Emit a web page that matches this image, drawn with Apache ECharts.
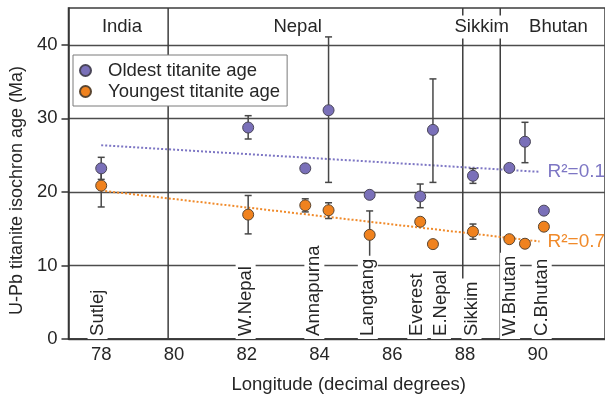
<!DOCTYPE html>
<html>
<head>
<meta charset="utf-8">
<script src="https://cdn.jsdelivr.net/npm/echarts@6/dist/echarts.min.js"></script>
<style>
  html, body { margin: 0; padding: 0; background: #fff; }
  #chart { width: 605px; height: 399px; }
</style>
</head>
<body>
<div id="chart"></div>
<script>
// Sample longitudes (decimal degrees E) and U-Pb titanite isochron ages (Ma)
const longitude    = [78.0, 82.04, 83.61, 84.25, 85.38, 86.77, 87.12, 88.22, 89.22, 89.65, 90.17];
const oldestAge    = [23.2, 28.75, 23.2, 31.1, 19.6, 19.38, 28.43, 22.19, 23.26, 26.82, 17.45];
const oldestLow    = [21.7, 27.19, null, 21.29, null, 17.85, 21.29, 21.16, null, 23.97, null];
const oldestHigh   = [24.7, 30.36, null, 41.07, null, 21.07, 35.36, 23.17, null, 29.46, null];
const youngestAge  = [20.85, 16.91, 18.17, 17.5, 14.16, 15.94, 12.9, 14.6, 13.57, 12.95, 15.27];
const youngestLow  = [17.95, 14.29, 17.28, 16.38, 11.02, null, null, 13.57, null, null, null];
const youngestHigh = [23.7, 19.51, 19.06, 18.52, 17.41, null, null, 15.63, null, null, null];

// Linear regression lines (end points) and their fit
const trendLon      = [78.0, 90.05];
const oldestTrend   = [26.34, 22.73];
const youngestTrend = [20.18, 13.26];
const oldestR2 = '0.1';
const youngestR2 = '0.7';

// Countries along the orogen and their boundaries
const regionNames  = ['India', 'Nepal', 'Sikkim', 'Bhutan'];
const regionLon    = [78.57, 83.4, 88.46, 90.57];
const regionBounds = [79.84, 87.94, 88.97];

// Sampling localities
const siteNames = ['Sutlej', 'W.Nepal', 'Annapurna', 'Langtang', 'Everest', 'E.Nepal', 'Sikkim', 'W.Bhutan', 'C.Bhutan'];
const siteLon   = [78.01, 82.08, 83.97, 85.44, 86.80, 87.45, 88.29, 89.35, 90.22];

// Axis ticks
const xTicks = [78, 80, 82, 84, 86, 88, 90];
const yTicks = [0, 10, 20, 30, 40];

const FONT = '"Liberation Sans", Arial, sans-serif';
const INK = '#262626';
const GRID = '#4d4d4d';
const PURPLE = '#7a70b9';
const ORANGE = '#f0821e';

function errorBars(low, high) {
  const data = [];
  longitude.forEach((x, i) => { if (low[i] != null) data.push([x, low[i], high[i]]); });
  return {
    type: 'custom',
    silent: true,
    z: 3,
    encode: { x: 0, y: [1, 2] },
    data,
    renderItem(params, api) {
      const x = api.value(0);
      const lo = api.coord([x, api.value(1)]);
      const hi = api.coord([x, api.value(2)]);
      const hw = 3.5;
      const style = { stroke: '#474747', lineWidth: 1.5 };
      return {
        type: 'group',
        children: [
          { type: 'line', shape: { x1: lo[0], y1: lo[1], x2: hi[0], y2: hi[1] }, style },
          { type: 'line', shape: { x1: lo[0] - hw, y1: lo[1], x2: lo[0] + hw, y2: lo[1] }, style },
          { type: 'line', shape: { x1: hi[0] - hw, y1: hi[1], x2: hi[0] + hw, y2: hi[1] }, style }
        ]
      };
    }
  };
}

function trendLine(values, color, r2) {
  return {
    type: 'line',
    silent: true,
    z: 2,
    symbol: 'none',
    data: trendLon.map((x, i) => [x, values[i]]),
    lineStyle: { color, width: 2, type: [2, 2] },
    endLabel: {
      show: true,
      distance: 8,
      formatter: 'R\u00b2=' + r2,
      color,
      fontSize: 19,
      fontFamily: FONT
    }
  };
}

const chart = echarts.init(document.getElementById('chart'), null, { renderer: 'canvas' });

chart.setOption({
  animation: false,
  backgroundColor: '#fff',
  textStyle: { fontFamily: FONT },
  grid: {
    left: 63, right: -1, top: 8, bottom: 55, containLabel: false,
    show: true, borderColor: '#3d3d3d', borderWidth: 1.5, backgroundColor: 'transparent'
  },
  legend: {
    data: ['Oldest titanite age', 'Youngest titanite age'],
    orient: 'vertical',
    left: 73,
    top: 55,
    padding: [5, 7, 4, 6],
    itemWidth: 11,
    itemHeight: 11,
    itemGap: 0,
    backgroundColor: '#fff',
    borderColor: '#7a7a7a',
    borderWidth: 1,
    borderRadius: 0,
    z: 10,
    textStyle: {
      color: INK, fontSize: 18.5, fontFamily: FONT, lineHeight: 21,
      rich: { t: { padding: [0, 0, 0, 12], fontSize: 18.5, lineHeight: 21, color: INK, fontFamily: FONT } }
    },
    formatter: name => '{t|' + name + '}'
  },
  xAxis: {
    type: 'value',
    min: 77.1,
    max: 91.85,
    name: 'Longitude (decimal degrees)',
    nameLocation: 'middle',
    nameGap: 36,
    nameTextStyle: { color: INK, fontSize: 18.5, fontFamily: FONT, padding: [0, 0, 0, 24] },
    axisLine: { show: true, lineStyle: { color: '#333', width: 1.5 } },
    axisTick: { show: false },
    splitLine: { show: false },
    axisLabel: { customValues: xTicks, color: INK, fontSize: 18.5, margin: 6 }
  },
  yAxis: {
    type: 'value',
    min: 0,
    max: 45,
    interval: 5,
    name: 'U-Pb titanite isochron age (Ma)',
    nameLocation: 'middle',
    nameGap: 38,
    nameTextStyle: { color: INK, fontSize: 18, fontFamily: FONT, padding: [0, 34, 0, 0] },
    axisLine: { show: true, onZero: false, lineStyle: { color: '#333', width: 1.5 } },
    axisTick: { show: true, customValues: yTicks, length: 7, lineStyle: { color: '#333', width: 1.5 } },
    splitLine: { show: true, lineStyle: { color: GRID, width: 1.4 } },
    axisLabel: { customValues: yTicks, color: INK, fontSize: 18.5, margin: 11 }
  },
  series: [
    // country boundaries
    {
      type: 'custom',
      silent: true,
      z: 1,
      data: regionBounds.map(x => [x]),
      encode: { x: 0 },
      renderItem(params, api) {
        const x = api.value(0);
        const a = api.coord([x, 0]);
        const b = api.coord([x, 45]);
        return { type: 'line', shape: { x1: a[0], y1: a[1], x2: b[0], y2: b[1] }, style: { stroke: '#3d3d3d', lineWidth: 1.5 } };
      }
    },
    // country names
    {
      type: 'scatter',
      silent: true,
      z: 3,
      symbolSize: 0,
      itemStyle: { opacity: 1 },
      data: regionLon.map((x, i) => ({ value: [x, 42.4], name: regionNames[i] })),
      label: {
        show: true, position: 'inside', formatter: '{b}',
        color: INK, fontSize: 18.5, fontFamily: FONT,
        backgroundColor: '#fff', padding: [1, 2], lineHeight: 21
      }
    },
    // locality names, written upward from the base of the plot
    {
      type: 'scatter',
      silent: true,
      z: 3,
      symbolSize: 0,
      itemStyle: { opacity: 1 },
      data: siteLon.map((x, i) => ({ value: [x, 0.55], name: siteNames[i] })),
      label: {
        show: true, position: 'inside', formatter: '{b}', rotate: 90,
        align: 'left', verticalAlign: 'middle', offset: [-4, -4],
        color: INK, fontSize: 18.5, fontFamily: FONT,
        backgroundColor: '#fff', padding: [1, 3], lineHeight: 18
      }
    },
    trendLine(oldestTrend, '#7d76c4', oldestR2),
    trendLine(youngestTrend, '#f08a2a', youngestR2),
    errorBars(oldestLow, oldestHigh),
    errorBars(youngestLow, youngestHigh),
    {
      name: 'Oldest titanite age',
      type: 'scatter',
      z: 5,
      symbol: 'circle',
      symbolSize: 11,
      data: longitude.map((x, i) => [x, oldestAge[i]]),
      itemStyle: { color: PURPLE, borderColor: '#4a4658', borderWidth: 1, opacity: 1 }
    },
    {
      name: 'Youngest titanite age',
      type: 'scatter',
      z: 5,
      symbol: 'circle',
      symbolSize: 11,
      data: longitude.map((x, i) => [x, youngestAge[i]]),
      itemStyle: { color: ORANGE, borderColor: '#5a4632', borderWidth: 1, opacity: 1 }
    }
  ]
});
</script>
</body>
</html>
